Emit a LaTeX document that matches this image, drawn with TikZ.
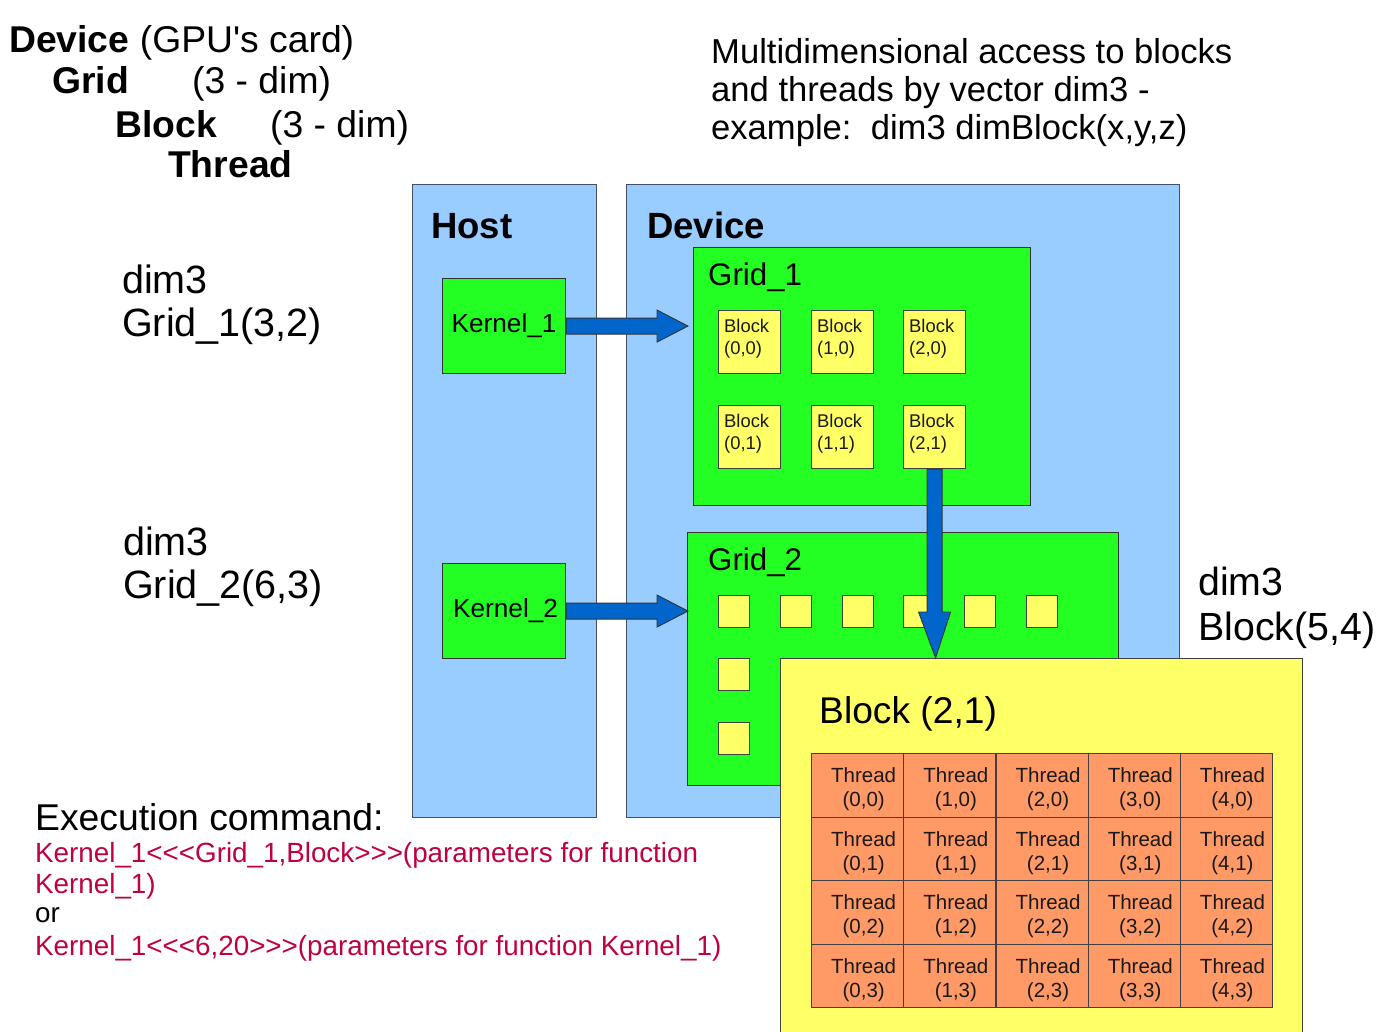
\documentclass[tikz,border=0pt]{standalone}
\usepackage{fontspec}
\setmainfont{Liberation Sans}[Ligatures=TeXOff]
\usetikzlibrary{calc}

\definecolor{panelblue}{RGB}{153,204,255}
\definecolor{gridgreen}{RGB}{35,255,35}
\definecolor{blockyellow}{RGB}{255,255,102}
\definecolor{threadorange}{RGB}{255,153,102}
\definecolor{arrowblue}{RGB}{0,102,204}
\definecolor{cmdred}{RGB}{191,0,65}
\definecolor{paneledge}{RGB}{70,80,100}

\newcommand\fsz[2]{\fontsize{#1}{#2}\selectfont}

\begin{document}
\begin{tikzpicture}[x=1pt,y=-1pt,
  box/.style={anchor=north west, inner sep=0pt, line width=1.1pt},
  panel/.style={box, draw=paneledge, fill=panelblue},
  gridbox/.style={box, draw=black!80, fill=gridgreen},
  kernel/.style={box, draw=black!80, fill=gridgreen, minimum width=123pt, minimum height=95pt, font=\fsz{26.2}{30}},
  blk/.style={box, draw=black!75, fill=blockyellow, minimum width=62pt, minimum height=63pt},
  sq/.style={box, draw=black!75, fill=blockyellow, minimum width=31pt, minimum height=32pt},
  cell/.style={box, draw=black!75, fill=threadorange, minimum width=92.2pt, minimum height=63.5pt},
  celltext/.style={inner sep=0pt, align=center, font=\fsz{20.5}{24}, text=black!90},
  blktext/.style={inner sep=0pt, anchor=west, align=left, font=\fsz{18.4}{22}, text=black!90},
  lbl/.style={inner sep=0pt, anchor=base west},
  head/.style={lbl, font=\fsz{37.3}{42}},
  headbold/.style={lbl, font=\fsz{37.3}{42}\bfseries},
  bigarrow/.style={fill=arrowblue, draw=black!80, line width=0.9pt, line join=miter}]

\clip (0,0) rectangle (1381,1031);
\fill[white] (0,0) rectangle (1381,1031);

% overview of the hierarchy
\node[head] (hDevice) at (9,52) {\textbf{Device} (GPU's card)};
\node[headbold] (hGrid) at (52,93) {Grid};
\node[head] (hGridDim) at (192,93) {(3 - dim)};
\node[headbold] (hBlock) at (115,137) {Block};
\node[head] (hBlockDim) at (270,137) {(3 - dim)};
\node[headbold] (hThread) at (168,177) {Thread};

% note about dim3
\node[lbl, font=\fsz{34.6}{38}] (note1) at (711,63) {Multidimensional access to blocks};
\node[lbl, font=\fsz{34.6}{38}] (note2) at (711,101) {and threads by vector dim3 -};
\node[lbl, font=\fsz{34.6}{38}] (note3) at (711,139) {example:~~dim3 dimBlock(x,y,z)};

% host and device panels
\node[panel, minimum width=184pt, minimum height=633pt] (host) at (412,184) {};
\node[panel, minimum width=553pt, minimum height=633pt] (device) at (626,184) {};
\node[lbl, font=\fsz{36.5}{42}\bfseries] (hostlbl) at (431,238) {Host};
\node[lbl, font=\fsz{36.5}{42}\bfseries] (devicelbl) at (647,238) {Device};

% kernels
\node[kernel] (k1) at (442,278) {Kernel\_1};
\node[kernel] (k2) at (442,563) {\hspace{3pt}Kernel\_2};

% grid 1 with its 3x2 blocks
\node[gridbox, minimum width=337pt, minimum height=258pt] (g1) at (693,247) {};
\node[lbl, font=\fsz{31.3}{36}] (g1lbl) at (708,285) {Grid\_1};
\foreach \x/\y/\i/\j in {718/310/0/0, 811/310/1/0, 903/310/2/0, 718/405/0/1, 811/405/1/1, 903/405/2/1} {
  \node[blk] (b\i\j) at (\x,\y) {};
  \node[blktext] (b\i\j txt) at ($(b\i\j.west)+(6pt,3pt)$) {Block\\(\i,\j)};
}

% grid 2 with its 6x3 blocks (partly hidden)
\node[gridbox, minimum width=431pt, minimum height=253pt] (g2) at (687,532) {};
\node[lbl, font=\fsz{31.3}{36}] (g2lbl) at (708,570) {Grid\_2};
\foreach \x [count=\n] in {718,780,842,903,964,1026}
  \node[sq] (s\n) at (\x,595) {};
\node[sq] (s7) at (718,658) {};
\node[sq] (s8) at (718,722) {};

% kernel launches
\draw[bigarrow] let \p1=(k1.east), \p2=(g1.west) in
  (\x1,\y1+8pt) -- (\x2-36pt,\y1+8pt) -- (\x2-36pt,\y1+16pt) -- (\x2-5pt,\y1)
  -- (\x2-36pt,\y1-16pt) -- (\x2-36pt,\y1-8pt) -- (\x1,\y1-8pt) -- cycle;
\draw[bigarrow] let \p1=(k2.east), \p2=(g2.west) in
  (\x1,\y1+8pt) -- (\x2-30pt,\y1+8pt) -- (\x2-30pt,\y1+16pt) -- (\x2+1pt,\y1)
  -- (\x2-30pt,\y1-16pt) -- (\x2-30pt,\y1-8pt) -- (\x1,\y1-8pt) -- cycle;

% block (2,1) in detail
\node[box, draw=black!75, fill=blockyellow, minimum width=522pt, minimum height=420pt] (big) at (780,658) {};
\draw[bigarrow] let \p1=(b21.south), \p2=(big.north) in
  (\x1-7.5pt,\y1) -- (\x1-7.5pt,\y2+46pt) -- (\x1-16pt,\y2+46pt) -- (\x1+1pt,\y2)
  -- (\x1+16pt,\y2+46pt) -- (\x1+7.5pt,\y2+46pt) -- (\x1+7.5pt,\y1) -- cycle;
\node[lbl, font=\fsz{37.2}{42}] (biglbl) at (819,723) {Block (2,1)};
\foreach \i in {0,...,4} \foreach \j in {0,...,3} {
  \node[cell] (th\i\j) at ({811+92.2*\i},{753+63.5*\j}) {};
  \node[celltext] (th\i\j txt) at ($(th\i\j.center)+(6pt,-4pt)$) {Thread\\(\i,\j)};
}

% dim3 declarations
\node[lbl, font=\fsz{39.5}{43}] (d1a) at (122,293) {dim3};
\node[lbl, font=\fsz{39.5}{43}] (d1b) at (122,336) {Grid\_1(3,2)};
\node[lbl, font=\fsz{39.5}{43}] (d2a) at (123,555) {dim3};
\node[lbl, font=\fsz{39.5}{43}] (d2b) at (123,598) {Grid\_2(6,3)};
\node[lbl, font=\fsz{39.3}{45}] (d3a) at (1198,595) {dim3};
\node[lbl, font=\fsz{39.3}{45}] (d3b) at (1198,640) {Block(5,4)};

% launch syntax
\node[lbl, font=\fsz{37.3}{42}] (exec) at (35,830) {Execution command:};
\node[lbl, font=\fsz{27.8}{31}, text=cmdred] (cmd1) at (35,862) {Kernel\_1<<<Grid\_1,Block>>>(parameters for function};
\node[lbl, font=\fsz{27.8}{31}, text=cmdred] (cmd2) at (35,893) {Kernel\_1)};
\node[lbl, font=\fsz{27.8}{31}] (cmdor) at (35,922) {or};
\node[lbl, font=\fsz{27.8}{31}, text=cmdred] (cmd3) at (35,955) {Kernel\_1<<<6,20>>>(parameters for function Kernel\_1)};
\end{tikzpicture}
\end{document}
